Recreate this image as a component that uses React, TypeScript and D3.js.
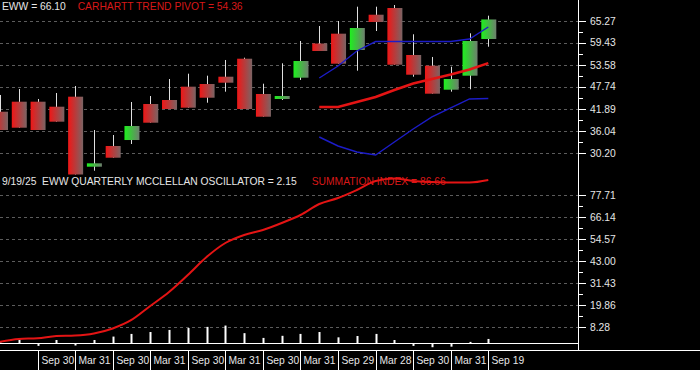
import React, { useEffect } from 'react';
import * as d3 from 'd3';

// Quarterly periods (one candle per quarter)
const quarters = [
  'Mar 29 2019', 'Jun 28 2019', 'Sep 30 2019', 'Dec 31 2019',
  'Mar 31 2020', 'Jun 30 2020', 'Sep 30 2020', 'Dec 31 2020',
  'Mar 31 2021', 'Jun 30 2021', 'Sep 30 2021', 'Dec 31 2021',
  'Mar 31 2022', 'Jun 30 2022', 'Sep 30 2022', 'Dec 30 2022',
  'Mar 31 2023', 'Jun 30 2023', 'Sep 29 2023', 'Dec 29 2023',
  'Mar 28 2024', 'Jun 28 2024', 'Sep 30 2024', 'Dec 31 2024',
  'Mar 31 2025', 'Jun 30 2025', 'Sep 19 2025',
];

const open = [41.09, 43.75, 43.75, 42.42, 45.08, 26.48, 31.98, 33.57, 43.14, 44.2, 47.74, 48.45, 50.39, 55.17, 45.8, 44.47, 50.13, 59.21, 61.82, 57.49, 66.86, 68.64, 56.16, 53.31, 46.94, 50.66, 60.41];
const high = [45.53, 47.12, 44.47, 46.06, 47.92, 36.23, 34.9, 43.67, 45.26, 49.78, 51.19, 50.66, 54.83, 55.44, 48.53, 53.95, 59.88, 63.86, 65.19, 68.99, 68.99, 69.44, 61.66, 55.63, 53.05, 61.92, 66.6];
const low = [36.23, 36.84, 36.23, 38.44, 24.41, 25.42, 28.87, 32.51, 38.17, 41.81, 42.16, 43.48, 46.41, 41.81, 39.76, 44.2, 49.52, 57.22, 53.85, 51.99, 62.53, 53.58, 50.39, 45.88, 46.41, 47.04, 58.36];
const close = [36.23, 36.84, 36.23, 38.44, 24.41, 27.38, 28.87, 37.29, 38.17, 41.81, 42.16, 44.81, 48.8, 41.81, 39.76, 45.26, 54.56, 57.22, 53.85, 63.33, 64.92, 53.58, 50.92, 45.88, 49.78, 59.88, 65.6];

// Overlay bands & Carhartt trend pivot start at quarter index 17
const overlayStart = 17;
const upperBand = [50.05, 53.23, 57.22, 59.74, 59.74, 59.74, 59.74, 59.74, 60.41, 63.6];
const lowerBand = [34.37, 31.98, 30.39, 29.59, 33.04, 36.5, 39.69, 42.08, 44.47, 44.6];
const trendPivot = [42.34, 42.34, 43.67, 45.0, 46.86, 48.59, 49.78, 50.98, 52.3, 54.0];

// Lower panel
const summation = [0.72, 2.14, 2.51, 3.72, 3.98, 5.03, 7.66, 12.13, 19.49, 26.86, 35.8, 45.26, 52.62, 56.83, 59.46, 63.14, 67.35, 73.13, 76.29, 80.5, 85.23, 86.55, 85.23, 84.7, 84.44, 84.44, 85.76];
const oscillator = [0.3, 1.8, -1.5, 1.6, -1.3, 1.6, 3.4, 4.8, 5.8, 6.9, 7.9, 8.5, 9.2, 5.2, 2.7, 3.8, 4.8, 5.8, 3.0, 3.7, 4.8, 1.6, -1.5, -2.2, -1.9, 0.6, 2.15];

const priceTicks = [30.2, 36.04, 41.89, 47.74, 53.58, 59.43, 65.27];
const sumTicks = [8.28, 19.86, 31.43, 43.0, 54.57, 66.14, 77.71];

const headerPrice = 'EWW = 66.10';
const headerPivot = 'CARHARTT TREND PIVOT = 54.36';
const headerOsc = '9/19/25  EWW QUARTERLY MCCLELLAN OSCILLATOR = 2.15';
const headerSum = 'SUMMATION INDEX = 86.66';

const FONT = '"Liberation Sans", Arial, sans-serif';
const TXT = '#e6e6e6';
const RED = '#d81818';

export default function App() {
  useEffect(() => {
    document.body.style.margin = '0';
    document.body.style.background = '#000';
  }, []);

  const W = 700;
  const H = 370;
  const plotRight = 578;
  const axisY = 350;

  const idx = quarters.map((_, i) => i);
  const x = d3.scaleLinear().domain([0, quarters.length - 1]).range([0, 488.3]);
  const yP = d3.scaleLinear().domain([priceTicks[0], priceTicks[priceTicks.length - 1]]).range([152.7, 20.7]);
  const yS = d3.scaleLinear().domain([sumTicks[0], sumTicks[sumTicks.length - 1]]).range([327.3, 195.3]);

  const bodyW = 15;

  const overlayLine = d3
    .line<number>()
    .x((_, i) => x(i + overlayStart))
    .y((d) => yP(d));
  const sumLine = d3
    .line<number>()
    .x((_, i) => x(i))
    .y((d) => yS(d))
    .curve(d3.curveMonotoneX);

  const mids = (t: number[]) => t.slice(1).map((v, i) => (v + t[i]) / 2);

  const labelIdx = idx.filter((i) => i >= 2 && i % 2 === 0);
  const shortLabel = (q: string) => q.split(' ').slice(0, 2).join(' ');

  return (
    <svg width={W} height={H} style={{ position: 'absolute', left: 0, top: 0, background: '#000', display: 'block' }}>
      <defs>
        <linearGradient id="gRed" x1="0" x2="1" y1="0" y2="0">
          <stop offset="0%" stopColor="#f01616" />
          <stop offset="100%" stopColor="#7a6464" />
        </linearGradient>
        <linearGradient id="gGreen" x1="0" x2="1" y1="0" y2="0">
          <stop offset="0%" stopColor="#1ef01e" />
          <stop offset="100%" stopColor="#6e7e6e" />
        </linearGradient>
        <clipPath id="plotClip">
          <rect x={0} y={0} width={plotRight} height={axisY} />
        </clipPath>
      </defs>
      <rect x={0} y={0} width={W} height={H} fill="#000" />

      {/* gridlines */}
      <g stroke="#5c5c5c" strokeWidth={1} strokeDasharray="3,3">
        {priceTicks.map((t) => (
          <line key={'gp' + t} x1={0} x2={plotRight} y1={Math.round(yP(t)) + 0.5} y2={Math.round(yP(t)) + 0.5} />
        ))}
        {sumTicks.map((t) => (
          <line key={'gs' + t} x1={0} x2={plotRight} y1={Math.round(yS(t)) + 0.5} y2={Math.round(yS(t)) + 0.5} />
        ))}
      </g>

      {/* candles */}
      <g clipPath="url(#plotClip)">
        {idx.map((i) => {
          const cx = Math.round(x(i));
          return (
            <line key={'w' + i} x1={cx + 0.5} x2={cx + 0.5} y1={yP(high[i])} y2={yP(low[i])} stroke="#e0e0e0" strokeWidth={1} />
          );
        })}
        {idx.map((i) => {
          const up = close[i] >= open[i];
          const top = yP(Math.max(open[i], close[i]));
          const bot = yP(Math.min(open[i], close[i]));
          return (
            <rect
              key={'b' + i}
              x={x(i) - bodyW / 2 + 0.5}
              y={top}
              width={bodyW}
              height={Math.max(2.5, bot - top)}
              fill={up ? 'url(#gGreen)' : 'url(#gRed)'}
            />
          );
        })}
        <path d={overlayLine(upperBand) || ''} fill="none" stroke="#1c1cc8" strokeWidth={1.4} />
        <path d={overlayLine(lowerBand) || ''} fill="none" stroke="#1c1cc8" strokeWidth={1.4} />
        <path d={overlayLine(trendPivot) || ''} fill="none" stroke="#e41414" strokeWidth={2.6} />
      </g>

      {/* top header */}
      <text x={2} y={10} fill={TXT} fontFamily={FONT} fontSize={10.3}>{headerPrice}</text>
      <text x={77.7} y={10} fill={RED} fontFamily={FONT} fontSize={10.3}>{headerPivot}</text>

      {/* lower header */}
      <text x={2} y={185} fill={TXT} fontFamily={FONT} fontSize={10.3} xmlSpace="preserve">{headerOsc}</text>
      <text x={311.7} y={185} fill={RED} fontFamily={FONT} fontSize={10.3}>{headerSum}</text>

      {/* oscillator histogram */}
      <g clipPath="url(#plotClip)">
        {idx.map((i) => (
          <rect
            key={'h' + i}
            x={Math.round(x(i)) - 0.5}
            y={Math.min(yS(0), yS(oscillator[i]))}
            width={2}
            height={Math.abs(yS(oscillator[i]) - yS(0))}
            fill="#ffffff"
          />
        ))}
        <path d={sumLine(summation) || ''} fill="none" stroke="#e41414" strokeWidth={2} />
      </g>

      {/* zero line & axis frame */}
      <line x1={0} x2={plotRight} y1={343.5} y2={343.5} stroke="#fff" strokeWidth={1} />
      <line x1={0} x2={W} y1={axisY + 0.5} y2={axisY + 0.5} stroke="#fff" strokeWidth={1} />
      <line x1={plotRight + 0.5} x2={plotRight + 0.5} y1={0} y2={axisY} stroke="#fff" strokeWidth={1} />

      {/* right axis ticks & labels */}
      <g stroke="#fff" strokeWidth={1}>
        {priceTicks.map((t) => (
          <line key={'tp' + t} x1={plotRight} x2={plotRight + 8} y1={Math.round(yP(t)) + 0.5} y2={Math.round(yP(t)) + 0.5} />
        ))}
        {mids(priceTicks).map((t) => (
          <line key={'mp' + t} x1={plotRight} x2={plotRight + 5} y1={Math.round(yP(t)) + 0.5} y2={Math.round(yP(t)) + 0.5} />
        ))}
        {sumTicks.map((t) => (
          <line key={'ts' + t} x1={plotRight} x2={plotRight + 8} y1={Math.round(yS(t)) + 0.5} y2={Math.round(yS(t)) + 0.5} />
        ))}
        {mids(sumTicks).map((t) => (
          <line key={'ms' + t} x1={plotRight} x2={plotRight + 5} y1={Math.round(yS(t)) + 0.5} y2={Math.round(yS(t)) + 0.5} />
        ))}
      </g>
      <g fill={TXT} fontFamily={FONT} fontSize={10.3}>
        {priceTicks.map((t) => (
          <text key={'lp' + t} x={590} y={yP(t) + 3.8}>{t.toFixed(2)}</text>
        ))}
        {sumTicks.map((t) => (
          <text key={'ls' + t} x={590} y={yS(t) + 3.8}>{t.toFixed(2)}</text>
        ))}
      </g>

      {/* bottom date axis */}
      <g>
        {labelIdx.map((i) => {
          const cx = Math.round(x(i)) + 0.5;
          return (
            <g key={'xl' + i}>
              <line x1={cx} x2={cx} y1={axisY} y2={H} stroke="#fff" strokeWidth={1} />
              <text x={cx + 3} y={363.5} fill={TXT} fontFamily={FONT} fontSize={10.3}>
                {shortLabel(quarters[i])}
              </text>
            </g>
          );
        })}
      </g>
    </svg>
  );
}
